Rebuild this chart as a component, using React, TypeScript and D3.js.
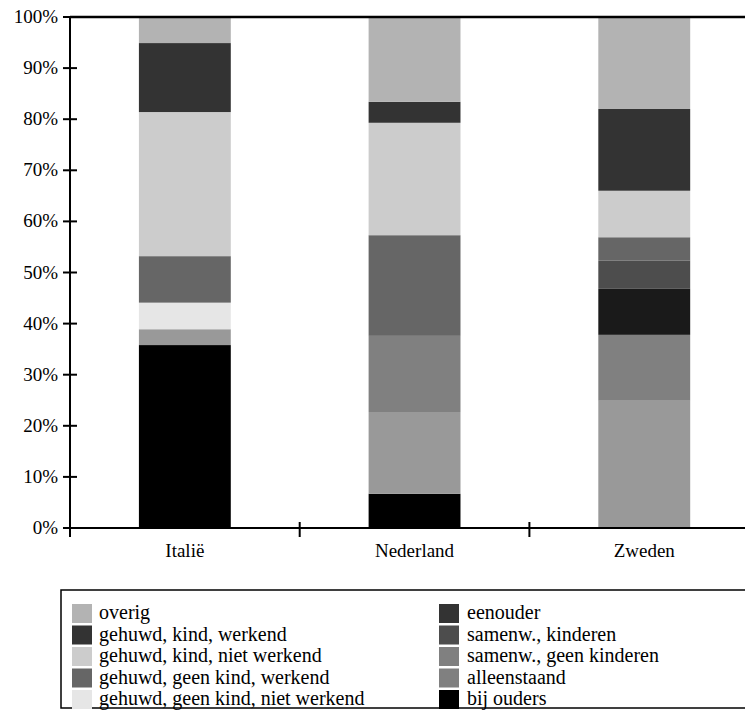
import React from "react";
import * as d3 from "d3";

const categories = ["Italië", "Nederland", "Zweden"];

// stacking order bottom -> top
const seriesNames = [
  "bij ouders",
  "alleenstaand",
  "samenw., geen kinderen",
  "samenw., kinderen",
  "eenouder",
  "gehuwd, geen kind, niet werkend",
  "gehuwd, geen kind, werkend",
  "gehuwd, kind, niet werkend",
  "gehuwd, kind, werkend",
  "overig",
];

const bijOuders = [35.8, 6.7, 0];
const alleenstaand = [3.1, 16.0, 24.9];
const samenwGeenKinderen = [0, 14.9, 12.9];
const samenwKinderen = [0, 0, 9.0];
const eenouder = [0, 0, 5.5];
const gehuwdGeenKindNietWerkend = [5.2, 0, 0];
const gehuwdGeenKindWerkend = [9.1, 19.7, 4.6];
const gehuwdKindNietWerkend = [28.2, 22.0, 9.1];
const gehuwdKindWerkend = [13.5, 4.1, 16.0];
const overig = [5.1, 16.6, 18.0];

const seriesValues = [
  bijOuders,
  alleenstaand,
  samenwGeenKinderen,
  samenwKinderen,
  eenouder,
  gehuwdGeenKindNietWerkend,
  gehuwdGeenKindWerkend,
  gehuwdKindNietWerkend,
  gehuwdKindWerkend,
  overig,
];

const barColors = [
  "#000000",
  "#999999",
  "#808080",
  "#1a1a1a",
  "#4d4d4d",
  "#e6e6e6",
  "#666666",
  "#cccccc",
  "#333333",
  "#b3b3b3",
];

// legend (column-major), as drawn in the legend box
const legendLeft = [
  "overig",
  "gehuwd, kind, werkend",
  "gehuwd, kind, niet werkend",
  "gehuwd, geen kind, werkend",
  "gehuwd, geen kind, niet werkend",
];
const legendLeftColors = ["#b3b3b3", "#333333", "#cccccc", "#666666", "#e6e6e6"];
const legendRight = [
  "eenouder",
  "samenw., kinderen",
  "samenw., geen kinderen",
  "alleenstaand",
  "bij ouders",
];
const legendRightColors = ["#333333", "#4d4d4d", "#808080", "#808080", "#000000"];

const yTicks = [0, 10, 20, 30, 40, 50, 60, 70, 80, 90, 100];

const W = 745;
const H = 718;
const FONT =
  '"Liberation Serif", "Times New Roman", Times, Tinos, "DejaVu Serif", "Noto Serif", FreeSerif, serif';

export default function App() {
  const x0 = 70;
  const bandW = 229.7;
  const x = d3
    .scaleBand<string>()
    .domain(categories)
    .range([x0, x0 + bandW * categories.length])
    .padding(0);
  const y = d3.scaleLinear().domain([0, 100]).range([528, 17]);

  const table = categories.map((c, i) => {
    const row: Record<string, number | string> = { cat: c };
    seriesNames.forEach((s, j) => (row[s] = seriesValues[j][i]));
    return row;
  });
  const stack = d3.stack<any>().keys(seriesNames)(table as any);

  const barW = x.bandwidth() * 0.4;
  const xTickPos = [...categories.map((c) => x(c)!), x0 + bandW * categories.length];
  const ts = { fontFamily: FONT };

  return (
    <svg
      width={W}
      height={H}
      style={{ position: "absolute", left: 0, top: 0, display: "block", background: "#fff" }}
    >
      {/* bars */}
      {stack.map((layer, j) => (
        <g key={seriesNames[j]} fill={barColors[j]}>
          {layer.map((d, i) => {
            const h = y(d[0]) - y(d[1]);
            if (h <= 0.01) return null;
            return (
              <rect
                key={i}
                x={x(categories[i])! + (x.bandwidth() - barW) / 2}
                y={y(d[1])}
                width={barW}
                height={h}
              />
            );
          })}
        </g>
      ))}

      {/* top frame line */}
      <line x1={x0} x2={W} y1={y(100)} y2={y(100)} stroke="#000" strokeWidth={2.5} />
      {/* x axis */}
      <line x1={x0} x2={W} y1={y(0)} y2={y(0)} stroke="#000" strokeWidth={2} />
      {xTickPos.map((p, i) => (
        <line key={i} x1={p} x2={p} y1={y(0) - 6} y2={y(0) + 9} stroke="#000" strokeWidth={2} />
      ))}
      {categories.map((c) => (
        <text
          key={c}
          x={x(c)! + x.bandwidth() / 2}
          y={557}
          textAnchor="middle"
          fontSize={19}
          fill="#000"
          style={ts}
        >
          {c}
        </text>
      ))}

      {/* y axis */}
      <line x1={x0} x2={x0} y1={y(100) - 1} y2={y(0) + 9} stroke="#000" strokeWidth={2} />
      {yTicks.map((t) => (
        <g key={t}>
          <line x1={x0 - 7} x2={x0 + 7} y1={y(t)} y2={y(t)} stroke="#000" strokeWidth={2} />
          <text x={58} y={y(t) + 6} textAnchor="end" fontSize={19} fill="#000" style={ts}>
            {t}%
          </text>
        </g>
      ))}

      {/* legend */}
      <rect x={61} y={590} width={720} height={118} fill="none" stroke="#000" strokeWidth={1.5} />
      {legendLeft.map((name, i) => (
        <g key={name}>
          <rect x={72} y={604 + i * 21.5} width={20} height={19} fill={legendLeftColors[i]} />
          <text x={99} y={604 + i * 21.5 + 15} fontSize={20} fill="#000" style={ts}>
            {name}
          </text>
        </g>
      ))}
      {legendRight.map((name, i) => (
        <g key={name}>
          <rect x={439} y={604 + i * 21.5} width={20} height={19} fill={legendRightColors[i]} />
          <text x={467} y={604 + i * 21.5 + 15} fontSize={20} fill="#000" style={ts}>
            {name}
          </text>
        </g>
      ))}
    </svg>
  );
}
